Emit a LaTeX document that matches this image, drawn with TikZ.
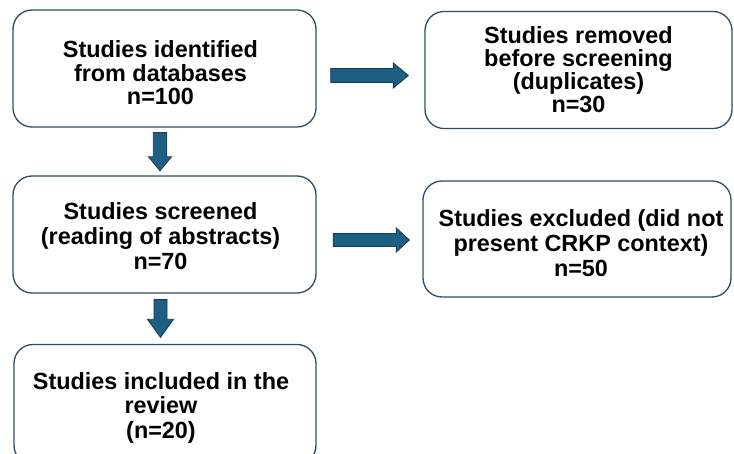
\documentclass[tikz,border=0pt]{standalone}
\usepackage{fontspec}
\setmainfont{Liberation Sans}
\usetikzlibrary{calc}
\definecolor{arrowblue}{HTML}{1D5F82}
\definecolor{arrowedge}{HTML}{123D55}
\definecolor{boxline}{HTML}{2F4C61}
% #1 horizontal offset (twice the shift), #2 baselineskip, #3 lines
\newcommand\boxtext[3]{\hspace*{#1}\parbox[b]{300pt}{\centering\fontsize{23.4}{#2}\selectfont\bfseries #3}}
\tikzset{
  box/.style={draw=boxline, line width=1.3pt, rounded corners=19pt, fill=white,
    inner sep=0pt, text depth=0pt},
  barrow/.style={fill=arrowblue, draw=arrowedge, line width=0.8pt, line join=miter}
}
% horizontal block arrow: start, end, shaft width, head width, head length
\newcommand\harrow[5]{%
  \filldraw[barrow] let \p1=(#1), \p2=(#2) in
    (\x1,{\y1+0.5*#3pt}) -- ({\x2-#5pt},{\y1+0.5*#3pt}) -- ({\x2-#5pt},{\y1+0.5*#4pt})
    -- (\x2,\y1) -- ({\x2-#5pt},{\y1-0.5*#4pt}) -- ({\x2-#5pt},{\y1-0.5*#3pt})
    -- (\x1,{\y1-0.5*#3pt}) -- cycle;}
% vertical (downward) block arrow
\newcommand\varrow[5]{%
  \filldraw[barrow] let \p1=(#1), \p2=(#2) in
    ({\x1-0.5*#3pt},\y1) -- ({\x1-0.5*#3pt},{\y2+#5pt}) -- ({\x1-0.5*#4pt},{\y2+#5pt})
    -- (\x1,\y2) -- ({\x1+0.5*#4pt},{\y2+#5pt}) -- ({\x1+0.5*#3pt},{\y2+#5pt})
    -- ({\x1+0.5*#3pt},\y1) -- cycle;}
\begin{document}
\begin{tikzpicture}[x=1pt,y=-1pt]
\useasboundingbox (0,0) rectangle (734,454);
\clip (0,0) rectangle (734,454);
\node[box, minimum width=303pt, minimum height=117pt, text height=73pt] (b1) at (164.5,68.5)
  {\boxtext{-8pt}{23.5}{Studies identified\\from databases\\n=100}};
\node[box, minimum width=307pt, minimum height=117pt, text height=86pt] (b2) at (578.5,70)
  {\boxtext{0pt}{23}{Studies removed\\before screening\\(duplicates)\\n=30}};
\node[box, minimum width=303pt, minimum height=117pt, text height=71pt] (b3) at (164.5,234.5)
  {\boxtext{-8pt}{25}{Studies screened\\(reading of abstracts)\\n=70}};
\node[box, minimum width=308pt, minimum height=116pt, text height=75.4pt] (b4) at (577,239)
  {\boxtext{8pt}{25}{Studies excluded (did not\\present CRKP context)\\n=50}};
\node[box, minimum width=302pt, minimum height=120pt, text height=67pt] (b5) at (165,404.5)
  {\boxtext{-8pt}{24.5}{Studies included in the\\review\\(n=20)}};
\coordinate (a1s) at ($(b1.east)+(14,7)$);
\coordinate (a1e) at ($(b1.east -| b2.west)+(-16,7)$);
\coordinate (a2s) at ($(b3.east)+(16.5,5.5)$);
\coordinate (a2e) at ($(b3.east -| b4.west)+(-13,5.5)$);
\coordinate (a3s) at ($(b1.south)+(-4.5,5)$);
\coordinate (a3e) at ($(b1.south |- b3.north)+(-4.5,-4.5)$);
\coordinate (a4s) at ($(b3.south)+(-4,6)$);
\coordinate (a4e) at ($(b3.south |- b5.north)+(-4,-6.5)$);
\harrow{a1s}{a1e}{14}{25}{15}
\harrow{a2s}{a2e}{13}{24}{13}
\varrow{a3s}{a3e}{13.5}{23}{14}
\varrow{a4s}{a4e}{13}{26}{18}
\end{tikzpicture}
\end{document}
